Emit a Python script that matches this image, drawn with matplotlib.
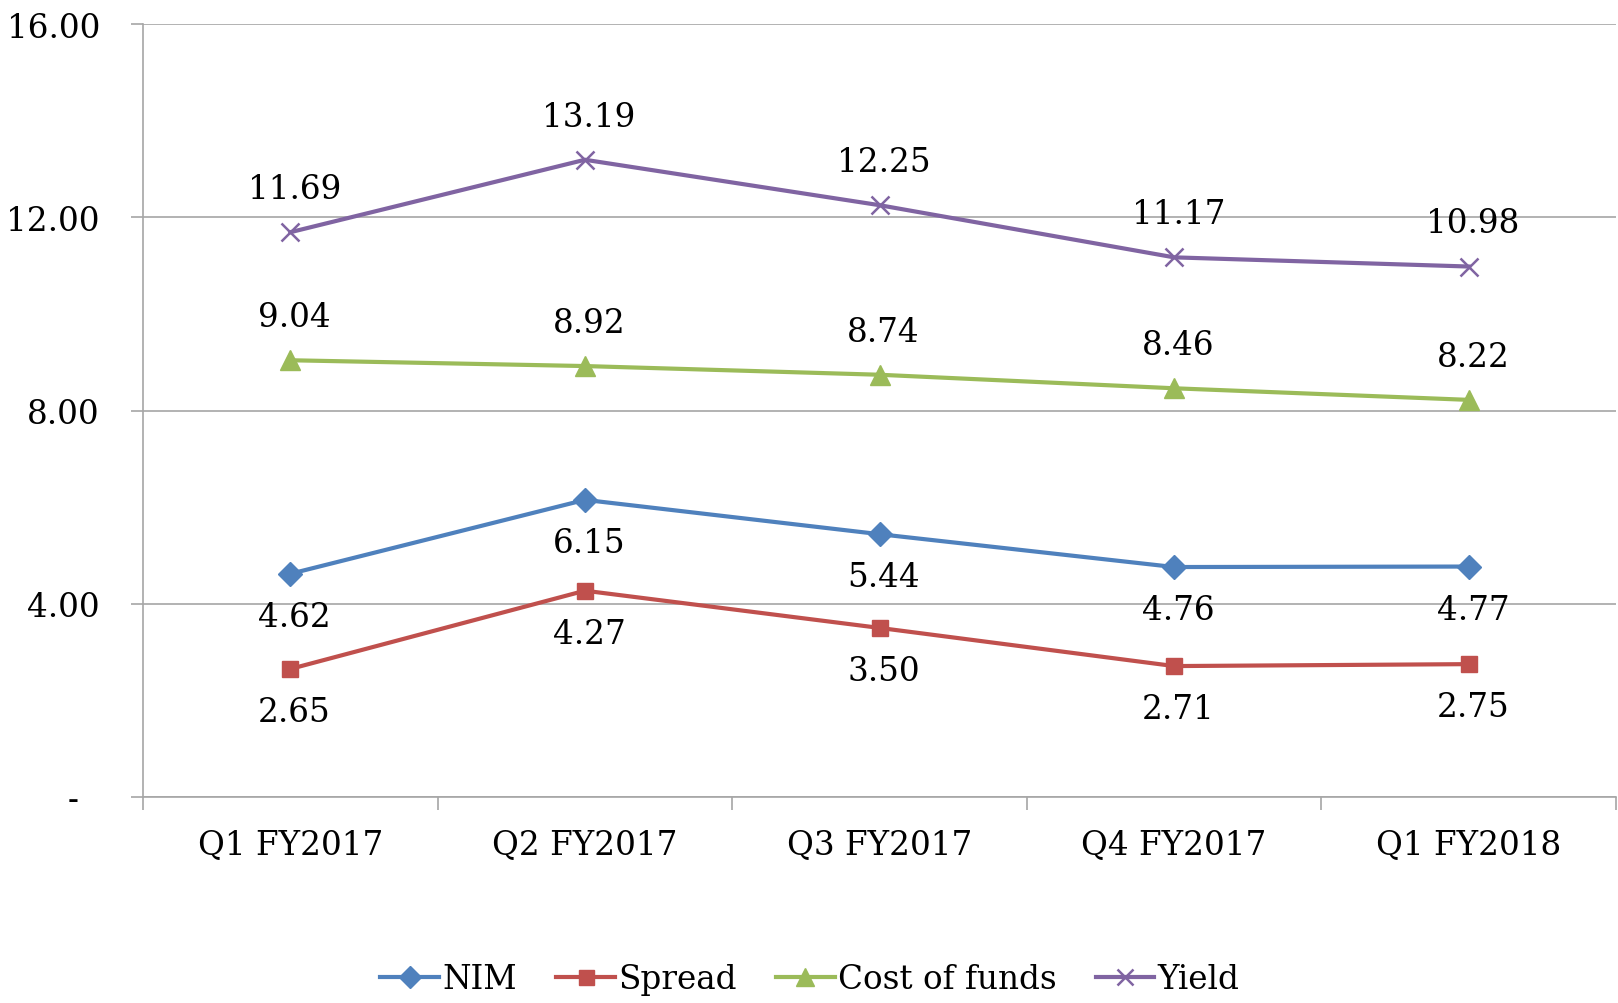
import numpy as np
import matplotlib
matplotlib.use('Agg')
import matplotlib.pyplot as plt
from matplotlib.ticker import FixedLocator, FuncFormatter

quarters = ['Q1 FY2017', 'Q2 FY2017', 'Q3 FY2017', 'Q4 FY2017', 'Q1 FY2018']
nim = [4.62, 6.15, 5.44, 4.76, 4.77]
spread = [2.65, 4.27, 3.50, 2.71, 2.75]
cost_of_funds = [9.04, 8.92, 8.74, 8.46, 8.22]
yield_ = [11.69, 13.19, 12.25, 11.17, 10.98]
y_ticks = [0, 4, 8, 12, 16]

plt.rcParams['font.family'] = ['DejaVu Serif']
FS = 23.5

fig = plt.figure(figsize=(16.18, 10.04), dpi=100)
ax = fig.add_axes([143 / 1618, 1 - 798 / 1004, (1616 - 143) / 1618, (798 - 25) / 1004])

x = np.arange(len(quarters))
series = [
    ('NIM', nim, '#4F81BD', 'D', 12, -1),
    ('Spread', spread, '#C0504D', 's', 12, -1),
    ('Cost of funds', cost_of_funds, '#9BBB59', '^', 14, 1),
    ('Yield', yield_, '#8064A2', 'x', 13, 1),
]
for name, vals, col, mk, ms, side in series:
    ax.plot(x, vals, color=col, lw=3, marker=mk, ms=ms, mew=1.8 if mk == 'x' else 1,
            mec=col, mfc=col, label=name)
    for xi, v in zip(x, vals):
        ax.annotate('%.2f' % v, (xi, v), xytext=(3, 31 * side), textcoords='offset points',
                    ha='center', va='center', fontsize=FS)

ax.set_xlim(-0.5, len(quarters) - 0.5)
ax.set_ylim(0, 16)
ax.yaxis.set_major_locator(FixedLocator(y_ticks))
ax.yaxis.set_major_formatter(FuncFormatter(lambda v, p: '-  ' if v == 0 else '%.2f' % v))
ax.grid(axis='y', color='#A6A6A6', lw=1.2)
ax.set_axisbelow(True)
ax.set_xticks(x)
ax.set_xticklabels(quarters)
ax.set_xticks(np.arange(-0.5, len(quarters)), minor=True)
ax.tick_params(axis='x', which='major', length=0, pad=22, labelsize=FS)
ax.tick_params(axis='x', which='minor', length=9, width=1.2, color='#A6A6A6')
ax.tick_params(axis='y', length=9, width=1.2, color='#A6A6A6', pad=22, labelsize=FS)
for s in ['top', 'right']:
    ax.spines[s].set_visible(False)
for s in ['left', 'bottom']:
    ax.spines[s].set_color('#A6A6A6')
    ax.spines[s].set_linewidth(1.2)

fig.legend(loc='center', bbox_to_anchor=(810 / 1618, 1 - 980 / 1004), ncol=4, frameon=False,
           fontsize=FS, handlelength=1.8, handletextpad=0.1, columnspacing=1.2, markerscale=0.9)

fig.savefig('out.png', dpi=100)
